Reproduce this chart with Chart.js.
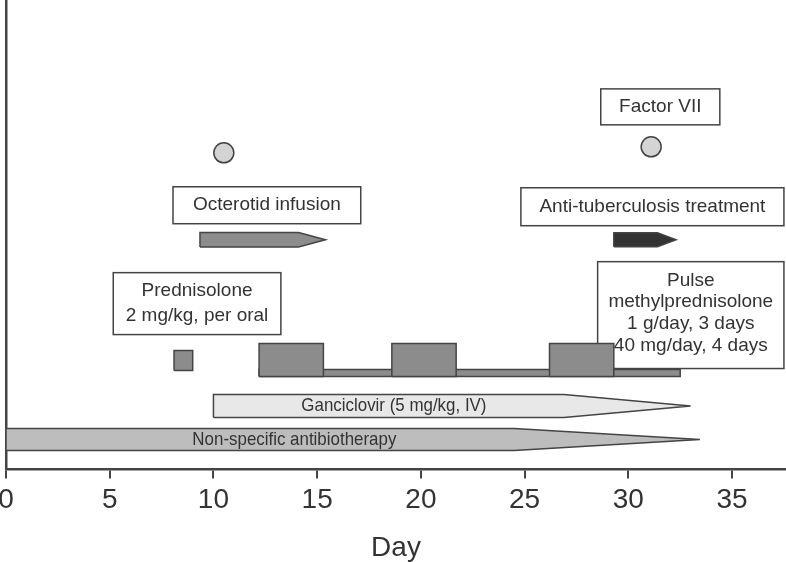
<!DOCTYPE html>
<html>
<head>
<meta charset="utf-8">
<script src="https://cdn.jsdelivr.net/npm/chart.js@4.4.1/dist/chart.umd.min.js"></script>
<style>
  body { margin: 0; background: #fff; }
  canvas { display: block; }
</style>
</head>
<body>
<canvas id="grafico" width="786" height="562"></canvas>
<script>
// Datos (en días)
const tratamientos = ['Non-specific antibiotherapy', 'Ganciclovir (5 mg/kg, IV)', 'Octerotid infusion', 'Anti-tuberculosis treatment'];
const inicio = [0, 10, 9.35, 29.3];
const inicioPunta = [24.5, 26.9, 14.1, 31.4];   // donde empieza la punta de la flecha
const finPunta = [33.45, 33.0, 15.4, 32.3];

const prednisolonaOral = [8.1, 9.0];
const pulsosInicio = [12.2, 18.6, 26.2];
const pulsosFin = [15.3, 21.7, 29.3];
const mantenimiento = [12.2, 32.5];

const diasFactorVII = [10.5, 31.1];

// Disposición vertical (unidades del eje y, 0-47)
const carril = [3.0, 6.35, 23.0, 23.0];
const grosor = [1.1, 1.15, 0.72, 0.7];
const colores = ['#bdbdbd', '#e8e8e8', '#8c8c8c', '#333333'];
const carrilFactor = [31.7, 32.3];
const GRIS = '#444444';
const TEXTO = '#333333';

// Cajas de texto
const cajas = [
  { texto: ['Factor VII'], x0: 28.67, x1: 34.41, y0: 34.5, y1: 38.1, lh: 22, dy: 0 },
  { texto: ['Octerotid infusion'], x0: 8.05, x1: 17.1, y0: 24.6, y1: 28.3, lh: 22, dy: 0 },
  { texto: ['Anti-tuberculosis treatment'], x0: 24.82, x1: 37.5, y0: 24.4, y1: 28.2, lh: 22, dy: 0 },
  { texto: ['Prednisolone', '2 mg/kg, per oral'], x0: 5.17, x1: 13.25, y0: 13.5, y1: 19.7, lh: 25, dy: 0 },
  { texto: ['Pulse', 'methylprednisolone', '1 g/day, 3 days', '40 mg/day, 4 days'], x0: 28.52, x1: 37.5, y0: 10.1, y1: 20.8, lh: 21.7, dy: -2 }
];

// Polígono de flecha con punta
function flecha(i) {
  const c = carril[i], g = grosor[i];
  return [
    { x: inicio[i], y: c - g }, { x: inicioPunta[i], y: c - g }, { x: finPunta[i], y: c },
    { x: inicioPunta[i], y: c + g }, { x: inicio[i], y: c + g }, { x: inicio[i], y: c - g }
  ];
}

function rectangulo(a, b, y0, y1) {
  return [{ x: a, y: y0 }, { x: b, y: y0 }, { x: b, y: y1 }, { x: a, y: y1 }, { x: a, y: y0 }];
}

function forma(datos, color, orden) {
  return {
    data: datos,
    fill: 'shape',
    backgroundColor: color,
    borderColor: GRIS,
    borderWidth: 1.5,
    borderJoinStyle: 'miter',
    pointRadius: 0,
    pointHoverRadius: 0,
    tension: 0,
    order: orden
  };
}

const datasets = [];
tratamientos.forEach((t, i) => datasets.push(forma(flecha(i), colores[i], 3)));
datasets.push(forma(rectangulo(mantenimiento[0], mantenimiento[1], 9.3, 10.0), '#8c8c8c', 2));
pulsosInicio.forEach((a, i) => datasets.push(forma(rectangulo(a, pulsosFin[i], 9.3, 12.6), '#8c8c8c', 1)));
datasets.push(forma(rectangulo(prednisolonaOral[0], prednisolonaOral[1], 9.9, 11.9), '#8c8c8c', 1));
datasets.push({
  data: diasFactorVII.map((d, i) => ({ x: d, y: carrilFactor[i] })),
  showLine: false,
  pointRadius: 10,
  pointHoverRadius: 10,
  pointBackgroundColor: '#d4d4d4',
  pointBorderColor: GRIS,
  pointBorderWidth: 1.5,
  order: 0
});

// Plugin para las cajas y las etiquetas
const etiquetas = {
  id: 'etiquetas',
  beforeDatasetsDraw(chart) {
    const ctx = chart.ctx, x = chart.scales.x, y = chart.scales.y;
    ctx.save();
    cajas.forEach(c => {
      const px0 = x.getPixelForValue(c.x0), px1 = x.getPixelForValue(c.x1);
      const py0 = y.getPixelForValue(c.y1), py1 = y.getPixelForValue(c.y0);
      ctx.fillStyle = '#fff';
      ctx.fillRect(px0, py0, px1 - px0, py1 - py0);
      ctx.strokeStyle = GRIS;
      ctx.lineWidth = 1.5;
      ctx.strokeRect(px0, py0, px1 - px0, py1 - py0);
      ctx.fillStyle = TEXTO;
      ctx.font = '19px "Liberation Sans", Arial, sans-serif';
      ctx.textAlign = 'center';
      ctx.textBaseline = 'middle';
      const cx = (px0 + px1) / 2, cy = (py0 + py1) / 2 + c.dy;
      const n = c.texto.length;
      c.texto.forEach((linea, k) => {
        ctx.fillText(linea, cx, cy + (k - (n - 1) / 2) * c.lh);
      });
    });
    ctx.restore();
  },
  afterDatasetsDraw(chart) {
    const ctx = chart.ctx, x = chart.scales.x, y = chart.scales.y;
    // texto estrecho dentro de las flechas largas
    const escribir = (txt, dia, v) => {
      ctx.save();
      ctx.translate(x.getPixelForValue(dia), y.getPixelForValue(v));
      ctx.scale(0.89, 1);
      ctx.fillStyle = TEXTO;
      ctx.font = '19px "Liberation Sans", Arial, sans-serif';
      ctx.textAlign = 'center';
      ctx.textBaseline = 'middle';
      ctx.fillText(txt, 0, 0);
      ctx.restore();
    };
    escribir(tratamientos[0], 13.9, carril[0]);
    escribir(tratamientos[1], 18.7, carril[1]);
  }
};

new Chart(document.getElementById('grafico'), {
  type: 'line',
  data: { datasets: datasets },
  options: {
    responsive: false,
    devicePixelRatio: 1,
    animation: false,
    events: [],
    layout: { autoPadding: false, padding: { left: 6, top: 0, right: 0, bottom: 0 } },
    plugins: { legend: { display: false }, tooltip: { enabled: false } },
    scales: {
      x: {
        type: 'linear',
        min: 0,
        max: 37.6,
        ticks: {
          stepSize: 5,
          includeBounds: false,
          color: TEXTO,
          padding: 5,
          font: { family: '"Liberation Sans", Arial, sans-serif', size: 28 }
        },
        grid: { drawOnChartArea: false, drawTicks: true, tickLength: 9, color: GRIS, lineWidth: 2 },
        border: { color: GRIS, width: 2.5 },
        title: {
          display: true,
          text: 'Day',
          color: TEXTO,
          font: { family: '"Liberation Sans", Arial, sans-serif', size: 28, lineHeight: 1 },
          padding: { top: 12, bottom: 0 }
        },
        afterFit(scale) { scale.paddingLeft = 0; scale.paddingRight = 0; }
      },
      y: {
        type: 'linear',
        min: 0,
        max: 47,
        ticks: { display: false },
        grid: { display: false, drawTicks: false },
        border: { color: GRIS, width: 2.5 }
      }
    }
  },
  plugins: [etiquetas]
});
</script>
</body>
</html>
